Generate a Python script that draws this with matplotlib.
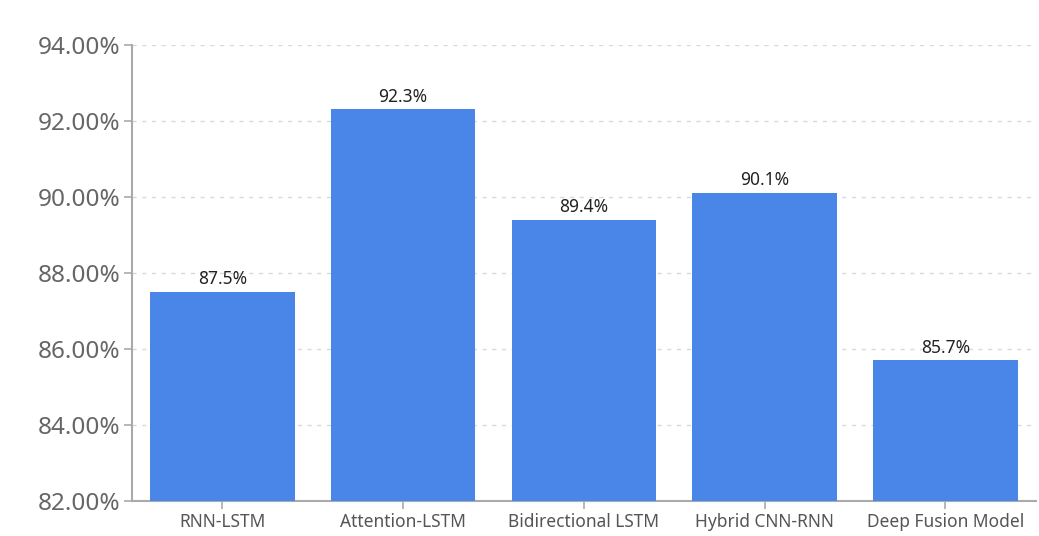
import matplotlib
matplotlib.use('agg')
import matplotlib.pyplot as plt
from matplotlib.ticker import FuncFormatter

plt.rcParams['font.family'] = ['Noto Sans', 'DejaVu Sans']

models = ["RNN-LSTM", "Attention-LSTM", "Bidirectional LSTM", "Hybrid CNN-RNN", "Deep Fusion Model"]
accuracy = [87.5, 92.3, 89.4, 90.1, 85.7]
y_ticks = [82, 84, 86, 88, 90, 92, 94]

fig = plt.figure(figsize=(10.39, 5.36), dpi=100)
ax = fig.add_axes([0.127, 0.0653, 0.870, 0.851])

x = range(len(models))
bars = ax.bar(x, accuracy, width=0.8, color="#4a86e8", zorder=3)

for b, v in zip(bars, accuracy):
    ax.text(b.get_x() + b.get_width() / 2, v + 0.1, f"{v}%", ha="center", va="bottom",
            fontsize=12.5, color="#222222")

ax.set_xlim(-0.5, len(models) - 0.5)
ax.set_ylim(82, 94)
ax.set_yticks(y_ticks)
ax.yaxis.set_major_formatter(FuncFormatter(lambda v, p: f"{v:.2f}%"))
ax.set_xticks(list(x))
ax.set_xticklabels(models)

ax.grid(axis="y", linestyle=(0, (3, 4)), color="#d9d9d9", linewidth=1, zorder=0)
for s in ["top", "right"]:
    ax.spines[s].set_visible(False)
for s in ["left", "bottom"]:
    ax.spines[s].set_color("#aaaaaa")
    ax.spines[s].set_linewidth(1.5)

ax.tick_params(axis="y", labelsize=17.5, colors="#aaaaaa", labelcolor="#666666", length=6, width=1.2, pad=2)
ax.tick_params(axis="x", labelsize=12.5, colors="#aaaaaa", labelcolor="#555555", length=6, width=1.2, pad=3)

plt.savefig("out.png", dpi=100)
